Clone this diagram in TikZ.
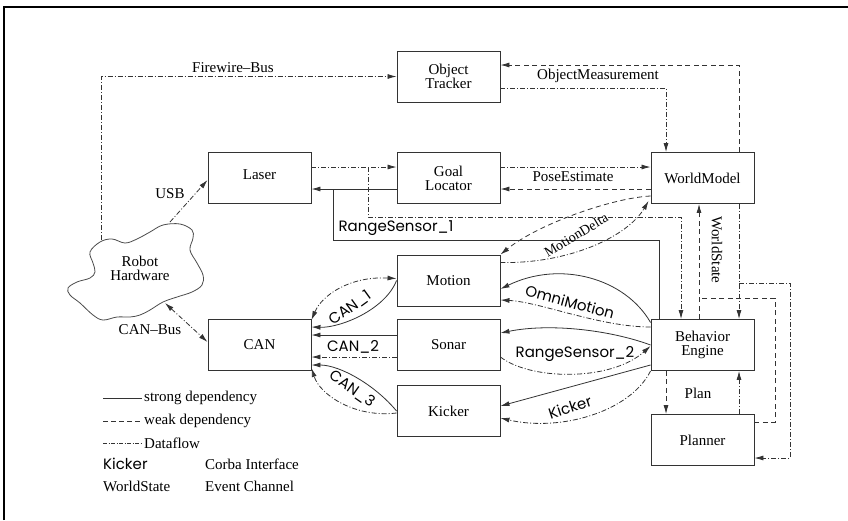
\documentclass[tikz,border=0pt]{standalone}
\usepackage{fontspec}
\setmainfont{Liberation Serif}
\newfontfamily\gsans{Poppins}
\usetikzlibrary{arrows.meta}
\begin{document}
\begin{tikzpicture}[x=1pt,y=-1pt,
  box/.style={draw=black!80,line width=0.9pt,minimum width=103pt,minimum height=51pt,inner sep=0pt,align=center,font=\fontsize{15}{14}\selectfont},
  lbl/.style={font=\fontsize{15}{14}\selectfont,inner sep=0pt,align=center},
  slbl/.style={font=\gsans\fontsize{15}{15}\selectfont,inner sep=0pt},
  strong/.style={draw=black!80,line width=0.8pt},
  weak/.style={draw=black!80,line width=0.8pt,dash pattern=on 5pt off 3.5pt},
  flow/.style={draw=black!80,line width=0.8pt,dash pattern=on 5pt off 2pt on 1pt off 2pt},
  tip/.style={-{Latex[length=9pt,width=5pt]}},
  btip/.style={{Latex[length=9pt,width=5pt]}-{Latex[length=9pt,width=5pt]}}
]
\useasboundingbox (0,0) rectangle (848,520);
\fill[white] (0,0) rectangle (848,520);
% frame
\draw[line width=2.2pt] (4,520) -- (4,7) -- (848,7);

% boxes
\node[box] (ot) at (448.5,76.5) {Object\\Tracker};
\node[box] (gl) at (448.5,178) {Goal\\Locator};
\node[box] (wm) at (702.5,178) {WorldModel};
\node[box] (laser) at (259.5,178) {\raisebox{7pt}{Laser}};
\node[box] (motion) at (448.5,280.5) {Motion};
\node[box] (sonar) at (448.5,345) {Sonar};
\node[box] (kicker) at (448.5,411) {Kicker};
\node[box] (can) at (259.5,345) {CAN};
\node[box] (be) at (702.5,345) {Behavior\\Engine};
\node[box] (planner) at (702.5,440) {Planner};

% robot hardware cloud
\draw[black!70,line width=0.8pt] plot[smooth cycle,tension=0.6] coordinates {
(90,252) (100,242) (112,239) (125,243) (137,239) (150,232) (163,225) (180,224)
(192,230) (193,238) (190,250) (197,263) (203,275) (202,285) (192,292) (177,297)
(163,302) (150,310) (140,315) (130,317) (117,317) (103,320) (93,315) (80,303)
(70,295) (68,288) (77,282) (90,278) (95,272) (93,263)};
\node[lbl] (rh) at (140,268) {Robot\\Hardware};

\coordinate (fw) at (101,240);
\coordinate (usb) at (170,222);
\coordinate (cb) at (165,303);

% Firewire, USB, CAN-Bus
\draw[flow,tip] (fw) |- (ot.west);
\node[lbl] (fwl) at (233,68) {Firewire–Bus};
\draw[flow,tip] (usb) -- ([yshift=-2pt]laser.west);
\node[lbl] (usbl) at (170,194) {USB};
\draw[flow,btip] (cb) -- ([yshift=3pt]can.west);
\node[lbl] (cbl) at (150,330) {CAN–Bus};

% Laser <-> Goal Locator
\draw[flow,tip] ([yshift=11pt]laser.east) -- ([yshift=11pt]gl.west);
\draw[strong,tip] ([yshift=-11pt]gl.west) -- ([yshift=-11pt]laser.east);
\coordinate (rsA) at (333,240);
\coordinate (rsB) at (333,189);
\draw[strong] ([xshift=-43.5pt]be.north) |- (rsA) -- (rsB);
\node[slbl] (rs1) at (396,228) {RangeSensor\_1};
\coordinate (dfA) at (368,167);
\coordinate (dfB) at (368,217);
\draw[flow,tip] (dfA) -- (dfB) -| ([xshift=-21.5pt]be.north);

% Goal Locator <-> WorldModel
\draw[flow,tip] ([yshift=11pt]gl.east) -- ([yshift=11pt]wm.west);
\draw[weak,tip] ([yshift=-11pt]wm.west) -- ([yshift=-11pt]gl.east);
\node[lbl] (pel) at (573,177) {PoseEstimate};

% Object Tracker <-> WorldModel
\draw[flow,tip] ([yshift=-11.5pt]ot.east) -| ([xshift=-36.5pt]wm.north);
\draw[weak,tip] ([xshift=36.5pt]wm.north) |- ([yshift=11.5pt]ot.east);
\node[lbl] (oml) at (598,76) {ObjectMeasurement};

% MotionDelta
\draw[weak,tip] ([yshift=-18pt]wm.west) .. controls (612,198) and (538,224) .. (motion.north east);
\draw[flow,tip] ([yshift=18pt]motion.east) .. controls (570,264) and (628,236) .. ([xshift=-2pt,yshift=3pt]wm.south west);
\node[lbl,rotate=31,font=\fontsize{14}{14}\selectfont] (mdl) at (576,235) {MotionDelta};

% WorldState
\draw[weak,tip] ([xshift=-3.5pt]be.north) -- ([xshift=-3.5pt]wm.south);
\coordinate (wsj) at (699,298);
\coordinate (wsr) at (775,298);
\draw[weak] ([yshift=18pt]planner.east) -| (wsr) -- (wsj);
\node[lbl,rotate=-90] (wsl) at (717,250) {WorldState};
\draw[flow,tip] ([xshift=36.5pt]wm.south) -- ([xshift=36.5pt]be.north);
\coordinate (wbj) at (739,283);
\coordinate (wbr) at (790,283);
\draw[flow,tip] (wbj) -- (wbr) |- ([yshift=-18pt]planner.east);

% Plan
\draw[weak,tip] ([xshift=-36.5pt]be.south) -- ([xshift=-36.5pt]planner.north);
\draw[flow,tip] ([xshift=36.5pt]planner.north) -- ([xshift=36.5pt]be.south);
\node[lbl] (pll) at (698,393) {Plan};

% OmniMotion
\draw[strong,tip] ([yshift=22.5pt]be.west) .. controls (625,278) and (560,260) .. ([yshift=-8.5pt]motion.east);
\draw[flow,tip] ([yshift=18pt]be.west) .. controls (600,327) and (540,302) .. ([yshift=-19.5pt]motion.east);
\node[slbl,rotate=-15] (oml2) at (570,302) {OmniMotion};

% RangeSensor_2
\draw[strong,tip] (be.west) .. controls (610,330) and (550,323) .. ([yshift=12pt]sonar.east);
\draw[flow,tip] ([yshift=-12pt]sonar.east) .. controls (530,380) and (610,382) .. ([yshift=-1pt]be.west);
\node[slbl] (rs2) at (575,354) {RangeSensor\_2};

% Kicker
\draw[strong,tip] ([yshift=-20pt]be.west) -- ([yshift=5pt]kicker.east);
\draw[flow,tip] (be.south west) .. controls (630,412) and (560,432) .. ([yshift=-7pt]kicker.east);
\node[slbl,rotate=18] (kl) at (570,407) {Kicker};

% CAN_1
\draw[strong,tip] (motion.west) .. controls (385,310) and (340,328) .. ([yshift=18pt]can.east);
\draw[flow,btip] ([yshift=25pt]can.east) .. controls (322,295) and (350,276) .. ([yshift=2pt]motion.west);
\node[slbl,rotate=36] (c1l) at (350,308) {CAN\_1};

% CAN_2
\draw[strong,tip] ([yshift=10pt]sonar.west) -- ([yshift=10pt]can.east);
\draw[flow,tip] ([yshift=-12pt]sonar.west) -- ([yshift=-12pt]can.east);
\node[slbl] (c2l) at (353,347) {CAN\_2};

% CAN_3
\draw[strong,tip] (kicker.west) .. controls (375,385) and (340,365) .. ([yshift=-20pt]can.east);
\draw[flow,tip] ([yshift=-2pt]kicker.west) .. controls (355,418) and (320,395) .. ([yshift=-23pt]can.east);
\node[slbl,rotate=-35] (c3l) at (352,389) {CAN\_3};

% legend
\coordinate (l1a) at (103,398); \coordinate (l1b) at (142,398);
\coordinate (l2a) at (103,421); \coordinate (l2b) at (142,421);
\coordinate (l3a) at (103,443); \coordinate (l3b) at (142,443);
\draw[strong] (l1a) -- (l1b);
\draw[weak,dash pattern=on 5pt off 3pt] (l2a) -- (l2b);
\draw[flow,dash pattern=on 4pt off 1.5pt on 1pt off 1.5pt] (l3a) -- (l3b);
\node[lbl,anchor=west] (lg1) at (144,398) {strong dependency};
\node[lbl,anchor=west] (lg2) at (144,421) {weak dependency};
\node[lbl,anchor=west] (lg3) at (144,443) {Dataflow};
\node[slbl,anchor=west] (lg4) at (103,464) {Kicker};
\node[lbl,anchor=west] (lg5) at (205,464) {Corba Interface};
\node[lbl,anchor=west] (lg6) at (103,486) {WorldState};
\node[lbl,anchor=west] (lg7) at (205,486) {Event Channel};
\end{tikzpicture}
\end{document}
